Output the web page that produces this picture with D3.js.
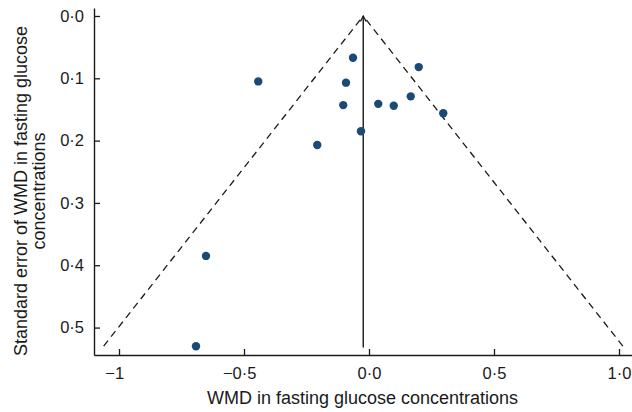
<!DOCTYPE html>
<html>
<head>
<meta charset="utf-8">
<script src="https://cdn.jsdelivr.net/npm/d3@7/dist/d3.min.js"></script>
<style>
  html, body { margin: 0; padding: 0; background: #fff; }
  svg { display: block; }
  text { font-family: "Liberation Sans", Arial, Helvetica, sans-serif; fill: #1a1a1a; }
</style>
</head>
<body>
<svg id="chart" width="632" height="412"></svg>
<script>
// ---- data ----
const studyWMD = [-0.064, 0.199, -0.092, 0.167, -0.103, 0.037, 0.099, 0.297, -0.032, -0.207, -0.443, -0.652, -0.692];
const studySE  = [0.067, 0.082, 0.107, 0.129, 0.143, 0.141, 0.144, 0.156, 0.185, 0.207, 0.105, 0.385, 0.530];
const pooledWMD = -0.023;
const funnelMaxSE = 0.532;
const xTickValues = [-1, -0.5, 0, 0.5, 1];
const xTickLabels = ["\u22121", "\u22120\u00b75", "0\u00b70", "0\u00b75", "1\u00b70"];
const yTickValues = [0, 0.1, 0.2, 0.3, 0.4, 0.5];
const yTickLabels = ["0\u00b70", "0\u00b71", "0\u00b72", "0\u00b73", "0\u00b74", "0\u00b75"];
const xTitle = "WMD in fasting glucose concentrations";
const yTitleLines = ["Standard error of WMD in fasting glucose", "concentrations"];

const svg = d3.select("#chart");
const x = d3.scaleLinear().domain([-1.1, 1.05]).range([94, 631.5]);
const y = d3.scaleLinear().domain([-0.0128, 0.544]).range([8, 355]);
const ink = "#1a1a1a";

// axes
const xAxis = d3.axisBottom(x).tickValues(xTickValues)
  .tickFormat((d, i) => xTickLabels[i]).tickSizeInner(-6).tickSizeOuter(0).tickPadding(12);
const yAxis = d3.axisLeft(y).tickValues(yTickValues)
  .tickFormat((d, i) => yTickLabels[i]).tickSizeInner(-6).tickSizeOuter(0).tickPadding(10);

const gx = svg.append("g").attr("transform", `translate(0,${y.range()[1]})`).call(xAxis);
const gy = svg.append("g").attr("transform", `translate(${x.range()[0]},0)`).call(yAxis);
[gx, gy].forEach(g => {
  g.selectAll("path.domain").attr("stroke", ink).attr("stroke-width", 1.4);
  g.selectAll(".tick line").attr("stroke", ink).attr("stroke-width", 1.3);
  g.selectAll(".tick text").attr("font-size", 16.5).attr("fill", ink)
    .style("font-family", '"Liberation Sans", Arial, sans-serif');
});
// center the number itself under the tick, minus sign hanging to the left
gx.selectAll(".tick text").each(function() {
  const t = d3.select(this);
  if (this.textContent.startsWith("\u2212")) {
    const w = this.getSubStringLength(0, 1);
    t.attr("x", -w / 2);
  }
});

// pseudo 95% confidence funnel (dashed)
const funnel = [
  [[pooledWMD, 0], [pooledWMD - 1.96 * funnelMaxSE, funnelMaxSE]],
  [[pooledWMD, 0], [pooledWMD + 1.96 * funnelMaxSE, funnelMaxSE]]
];
const line = d3.line().x(d => x(d[0])).y(d => y(d[1]));
svg.append("g").selectAll("path").data(funnel).join("path")
  .attr("d", line).attr("fill", "none").attr("stroke", ink)
  .attr("stroke-width", 1.3).attr("stroke-dasharray", "7,5").attr("stroke-dashoffset", 7);

// pooled estimate vertical line with arrow
svg.append("defs").append("marker")
  .attr("id", "arrow").attr("viewBox", "0 0 10 10").attr("refX", 9).attr("refY", 5)
  .attr("markerWidth", 8).attr("markerHeight", 8).attr("orient", "auto")
  .attr("markerUnits", "userSpaceOnUse")
  .append("path").attr("d", "M2,1.5 L9,5 L2,8.5").attr("fill", "none")
  .attr("stroke", ink).attr("stroke-width", 1.6);
svg.append("line")
  .attr("x1", x(pooledWMD)).attr("x2", x(pooledWMD))
  .attr("y1", y(funnelMaxSE)).attr("y2", y(0))
  .attr("stroke", ink).attr("stroke-width", 1.4)
  .attr("marker-end", "url(#arrow)");

// studies
svg.append("g").selectAll("circle").data(studyWMD.map((d, i) => [d, studySE[i]])).join("circle")
  .attr("cx", d => x(d[0])).attr("cy", d => y(d[1])).attr("r", 4.2)
  .attr("fill", "#1c4a75");

// titles
svg.append("text").attr("x", 362.5).attr("y", 404).attr("text-anchor", "middle")
  .attr("font-size", 18).text(xTitle);
const yt = svg.append("text").attr("transform", "translate(0,191) rotate(-90)")
  .attr("text-anchor", "middle").attr("font-size", 18);
yTitleLines.forEach((s, i) => {
  yt.append("tspan").attr("x", 0).attr("y", i === 0 ? 27 : 45).text(s);
});
</script>
</body>
</html>
